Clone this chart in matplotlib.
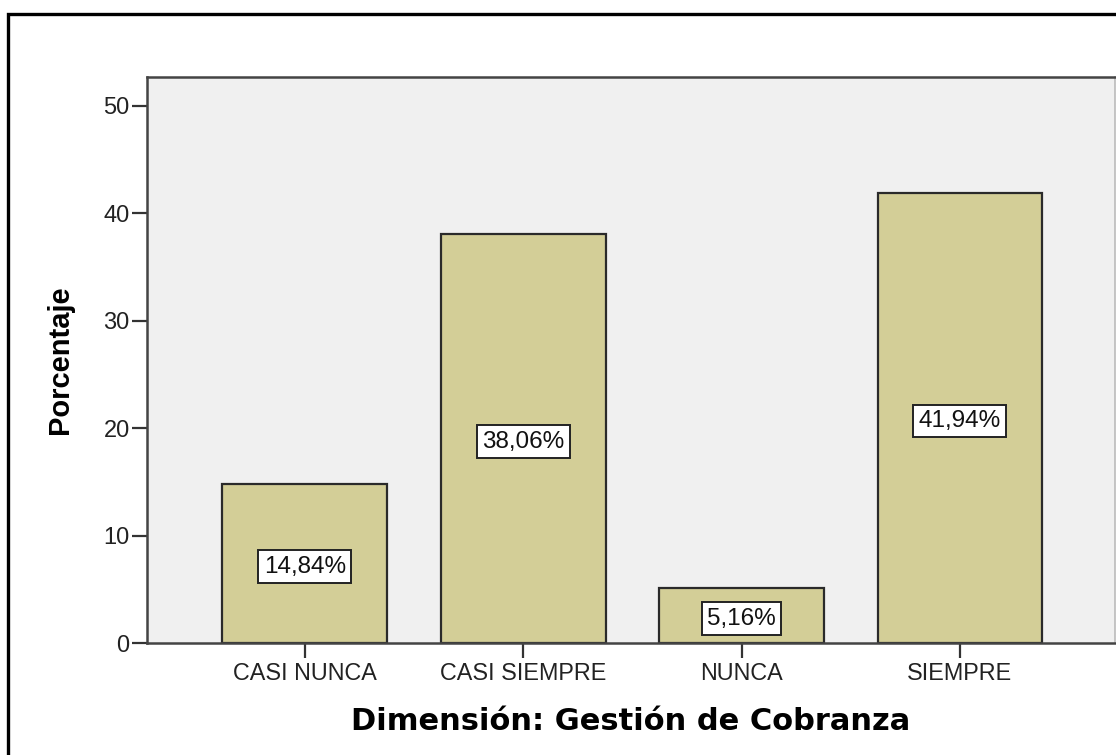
import matplotlib
matplotlib.use("Agg")
import matplotlib.pyplot as plt
from matplotlib.patches import Rectangle

categories = ["CASI NUNCA", "CASI SIEMPRE", "NUNCA", "SIEMPRE"]
percentages = [14.84, 38.06, 5.16, 41.94]
bar_labels = ["14,84%", "38,06%", "5,16%", "41,94%"]

W, H = 1116, 755
fig = plt.figure(figsize=(W / 100, H / 100), dpi=100)
fig.patch.set_facecolor("white")

# outer frame (clipped at right and bottom as in the reference)
fig.patches.append(Rectangle((8 / W, -0.05), 1.2, 1.05 - 14 / H, transform=fig.transFigure,
                             fill=False, edgecolor="black", linewidth=2.4, zorder=0))

ax = fig.add_axes([147 / W, 1 - 643 / H, (1115 - 147) / W, (643 - 77) / H])
ax.set_facecolor("#f0f0f0")

x = range(len(categories))
ax.bar(x, percentages, width=0.755, color="#d3ce97", edgecolor="#2a2a2a", linewidth=1.6, zorder=2)

for xi, h, lab in zip(x, percentages, bar_labels):
    ax.text(xi, h / 2 - 0.3, lab, ha="center", va="center", fontsize=17.5,
            family="Liberation Sans", color="#111111", zorder=3,
            bbox=dict(boxstyle="square,pad=0.22", facecolor="white", edgecolor="#222222", linewidth=1.4))

ax.set_xlim(-0.723, 3.71)
ax.set_ylim(0, 52.7)
ax.set_yticks([0, 10, 20, 30, 40, 50])
ax.set_xticks(list(x))
ax.set_xticklabels(categories, family="Liberation Sans", fontsize=16.8)
for t in ax.get_yticklabels():
    t.set_family("Liberation Sans")
    t.set_fontsize(17)
ax.tick_params(axis="both", direction="out", length=10.5, width=1.6, color="#333333", labelcolor="#222222")
ax.tick_params(axis="y", pad=2)
ax.tick_params(axis="x", pad=3)

for s in ["left", "bottom", "top"]:
    ax.spines[s].set_color("#444444")
    ax.spines[s].set_linewidth(1.8)
ax.spines["right"].set_color("#bbbbbb")
ax.spines["right"].set_linewidth(1.2)

ax.set_ylabel("Porcentaje", family="Liberation Sans", fontweight="bold", fontsize=21, labelpad=21)
ax.set_xlabel("Dimensión: Gestión de Cobranza", family="DejaVu Sans", fontweight="bold",
              fontsize=22, labelpad=16)

fig.savefig("out.png", dpi=100)
plt.close(fig)
